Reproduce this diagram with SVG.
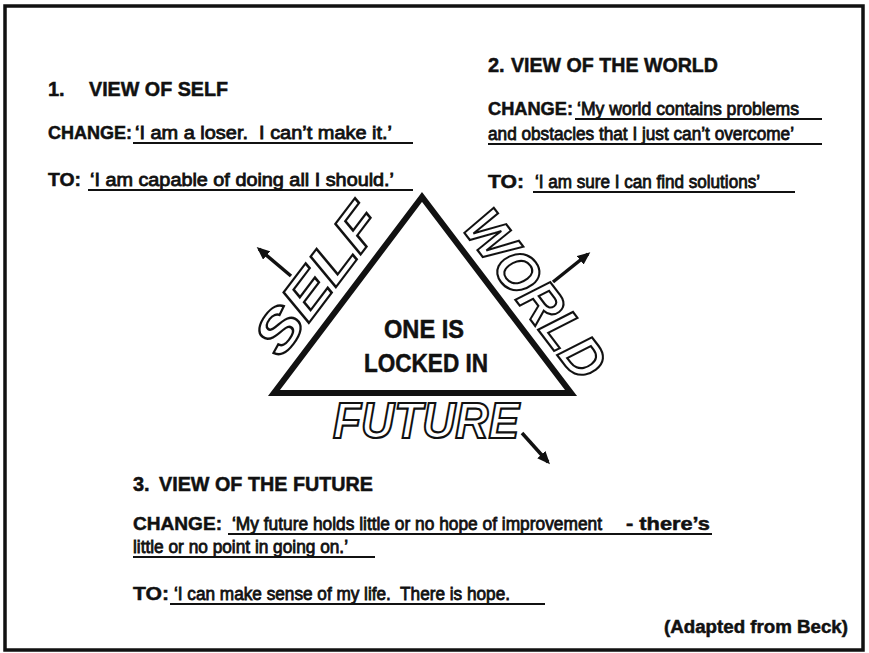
<svg xmlns="http://www.w3.org/2000/svg" width="869" height="653" viewBox="0 0 869 653">
<style>
  .h { font-family: "Liberation Sans", Arial, sans-serif; font-weight: bold; font-size: 20px; fill: #111; stroke: #111; stroke-width: 0.5; }
  .lab { font-family: "Liberation Sans", Arial, sans-serif; font-weight: bold; font-size: 18px; fill: #111; stroke: #111; stroke-width: 0.5; }
  .q { font-family: "Liberation Sans", Arial, sans-serif; font-weight: normal; font-size: 18px; fill: #111; stroke: #111; stroke-width: 0.8; }
  .ul { stroke: #111; stroke-width: 2; }
  .outline { font-family: "Liberation Sans", Arial, sans-serif; font-weight: bold; font-style: italic; font-size: 56px; fill: #fff; stroke: #111; stroke-width: 2.2; }
  .center { font-family: "Liberation Sans", Arial, sans-serif; font-weight: bold; font-size: 25px; fill: #111; text-anchor: middle; stroke: #111; stroke-width: 0.5; }
  .arrow { stroke: #111; stroke-width: 3.5; fill: none; }
</style>
<defs>
  <marker id="ah" markerUnits="userSpaceOnUse" markerWidth="13" markerHeight="11" refX="10" refY="5.5" orient="auto">
    <path d="M0,0 L13,5.5 L0,11 Z" fill="#111"/>
  </marker>
</defs>
<rect x="0" y="0" width="869" height="653" fill="#fff"/>
<rect x="5" y="6" width="858" height="644" fill="none" stroke="#111" stroke-width="3.5"/>

<g id="view-self">
  <text class="h" x="48" y="96">1.</text>
  <text class="h" x="89" y="96" textLength="139" lengthAdjust="spacingAndGlyphs">VIEW OF SELF</text>
  <text class="lab" x="48" y="139" textLength="84" lengthAdjust="spacingAndGlyphs">CHANGE:</text>
  <text class="q" x="135" y="139" textLength="257" lengthAdjust="spacingAndGlyphs" xml:space="preserve">‘I am a loser.  I can’t make it.’</text>
  <line class="ul" x1="133" y1="143" x2="413" y2="143"/>
  <text class="lab" x="48" y="186" textLength="33" lengthAdjust="spacingAndGlyphs">TO:</text>
  <text class="q" x="90" y="186" textLength="304" lengthAdjust="spacingAndGlyphs">‘I am capable of doing all I should.’</text>
  <line class="ul" x1="88" y1="190" x2="413" y2="190"/>
</g>

<g id="view-world">
  <text class="h" x="488" y="72">2.</text>
  <text class="h" x="511" y="72" textLength="207" lengthAdjust="spacingAndGlyphs">VIEW OF THE WORLD</text>
  <text class="lab" x="488" y="115" textLength="85" lengthAdjust="spacingAndGlyphs">CHANGE:</text>
  <text class="q" x="577" y="115" textLength="222" lengthAdjust="spacingAndGlyphs">‘My world contains problems</text>
  <line class="ul" x1="575" y1="119" x2="822" y2="119"/>
  <text class="q" x="488" y="140" textLength="306" lengthAdjust="spacingAndGlyphs">and obstacles that I just can’t overcome’</text>
  <line class="ul" x1="488" y1="144" x2="822" y2="144"/>
  <text class="lab" x="488" y="188" textLength="36" lengthAdjust="spacingAndGlyphs">TO:</text>
  <text class="q" x="535" y="188" textLength="225" lengthAdjust="spacingAndGlyphs">‘I am sure I can find solutions’</text>
  <line class="ul" x1="533" y1="192" x2="795" y2="192"/>
</g>

<g id="view-future">
  <text class="h" x="133" y="491">3.</text>
  <text class="h" x="159" y="491" textLength="214" lengthAdjust="spacingAndGlyphs">VIEW OF THE FUTURE</text>
  <text class="lab" x="133" y="530" style="font-size:19px" textLength="89" lengthAdjust="spacingAndGlyphs">CHANGE:</text>
  <text class="q" x="232" y="530" textLength="370" lengthAdjust="spacingAndGlyphs">‘My future holds little or no hope of improvement</text>
  <text class="lab" x="626" y="530" textLength="84" lengthAdjust="spacingAndGlyphs">- there’s</text>
  <line class="ul" x1="228" y1="534" x2="712" y2="534"/>
  <text class="q" x="133" y="553" textLength="215" lengthAdjust="spacingAndGlyphs">little or no point in going on.’</text>
  <line class="ul" x1="133" y1="557" x2="375" y2="557"/>
  <text class="lab" x="133" y="600" style="font-size:19px" textLength="36" lengthAdjust="spacingAndGlyphs">TO:</text>
  <text class="q" x="174" y="600" textLength="336" lengthAdjust="spacingAndGlyphs" xml:space="preserve">‘I can make sense of my life.  There is hope.</text>
  <line class="ul" x1="170" y1="604" x2="545" y2="604"/>
</g>

<g id="triangle">
  <polygon points="422,197 274,393 571,393" fill="#fff" stroke="#111" stroke-width="6" stroke-linejoin="miter"/>
  <text class="center" x="424" y="338" textLength="80" lengthAdjust="spacingAndGlyphs">ONE IS</text>
  <text class="center" x="426" y="372" textLength="124" lengthAdjust="spacingAndGlyphs">LOCKED IN</text>
</g>

<g id="label-self">
  <text class="outline" transform="translate(333,291) rotate(-52.9)" text-anchor="middle" textLength="172" lengthAdjust="spacingAndGlyphs">SELF</text>
</g>
<g id="label-world">
  <text class="outline" transform="translate(520,306) rotate(52.8)" text-anchor="middle" textLength="196" lengthAdjust="spacingAndGlyphs">WORLD</text>
</g>
<g id="label-future">
  <text class="outline" x="333" y="438" style="font-size:50px" textLength="186" lengthAdjust="spacingAndGlyphs">FUTURE</text>
</g>

<g id="connectors">
  <line class="arrow" x1="291" y1="276" x2="259" y2="249" marker-end="url(#ah)"/>
  <line class="arrow" x1="553" y1="282" x2="588" y2="254" marker-end="url(#ah)"/>
  <line class="arrow" x1="522" y1="433" x2="548" y2="462" marker-end="url(#ah)"/>
</g>

<g id="credit">
  <text class="lab" x="848" y="633" style="font-size:17.5px" text-anchor="end" textLength="184" lengthAdjust="spacingAndGlyphs">(Adapted from Beck)</text>
</g>
</svg>
